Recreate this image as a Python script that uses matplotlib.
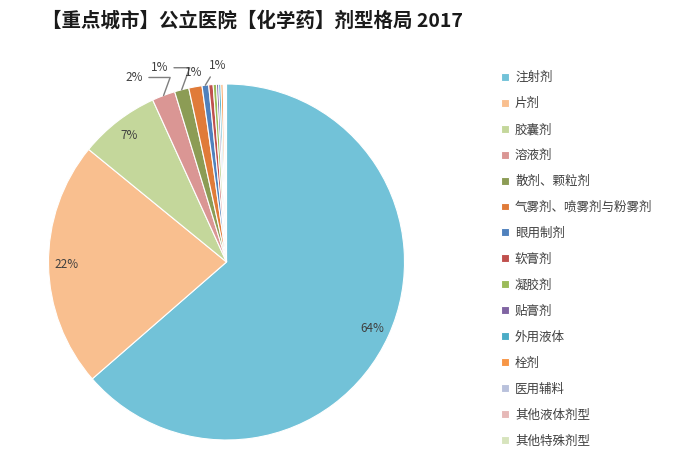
import matplotlib
matplotlib.use('Agg')
import matplotlib.pyplot as plt
import numpy as np

plt.rcParams['font.family'] = ['Noto Sans CJK SC', 'DejaVu Sans']

title = '【重点城市】公立医院【化学药】剂型格局 2017'

categories = ['注射剂', '片剂', '胶囊剂', '溶液剂', '散剂、颗粒剂', '气雾剂、喷雾剂与粉雾剂',
              '眼用制剂', '软膏剂', '凝胶剂', '贴膏剂', '外用液体', '栓剂', '医用辅料',
              '其他液体剂型', '其他特殊剂型']
shares = [63.6, 22.3, 7.3, 2.1, 1.3, 1.2, 0.6, 0.4, 0.3, 0.2, 0.2, 0.2, 0.1, 0.1, 0.1]

colors = ['#72C2D8', '#F9BF8F', '#C4D79B', '#DA9694', '#8C9C55', '#E07B39', '#4F81BD',
          '#C0504D', '#9BBB59', '#8064A2', '#4BACC6', '#F79646', '#B9C1DC', '#E6B9B8', '#D7E4BD']

W, H = 677, 461
fig = plt.figure(figsize=(W / 100, H / 100), dpi=100)
ax = fig.add_axes([0, 0, 1, 1])

cx, cy, r = 226.5, H - 262, 178
wedges, _ = ax.pie(shares, colors=colors, startangle=90, counterclock=False,
                   center=(cx, cy), radius=r, frame=True,
                   wedgeprops=dict(edgecolor='white', linewidth=0.8))
ax.set_xlim(0, W)
ax.set_ylim(0, H)
ax.set_aspect('equal')
ax.axis('off')

# labels: big slices inside near the rim, small ones outside with leaders
label_color = '#404040'
small_offsets = {3: (-29, 18), 4: (-22, 22), 5: (-2, 14), 6: (12, 20)}
for i, (w, v) in enumerate(zip(wedges, shares)):
    if round(v) < 1:
        continue
    mid = np.deg2rad((w.theta1 + w.theta2) / 2)
    txt = f'{v:.0f}%'
    if v >= 5:
        ax.text(cx + 0.9 * r * np.cos(mid), cy + 0.9 * r * np.sin(mid), txt,
                ha='center', va='center', fontsize=8.5, color=label_color)
    else:
        px, py = cx + r * np.cos(mid), cy + r * np.sin(mid)
        dx, dy = small_offsets[i]
        if i == 5:
            lead = None
        elif dx < 0:
            lead = dict(arrowstyle='-', color='#7f7f7f', lw=1, shrinkA=2, shrinkB=0,
                        connectionstyle='angle,angleA=0,angleB=70,rad=0')
        else:
            lead = dict(arrowstyle='-', color='#7f7f7f', lw=1, shrinkA=2, shrinkB=0)
        ax.annotate(txt, xy=(px, py), xytext=(px + dx, py + dy),
                    ha='center', va='center', fontsize=8.5, color=label_color,
                    arrowprops=lead)

fig.legend(wedges, categories, loc='upper left', bbox_to_anchor=(490 / W, 1 - 60 / H),
           frameon=False, fontsize=9, handlelength=0.6, handleheight=0.6,
           handletextpad=0.5, labelspacing=1.035, labelcolor='#404040')

fig.text(252 / W, 1 - 21 / H, title, ha='center', va='center', fontsize=14,
         fontweight='bold', color='#1a1a1a')

fig.savefig('out.png', dpi=100)
